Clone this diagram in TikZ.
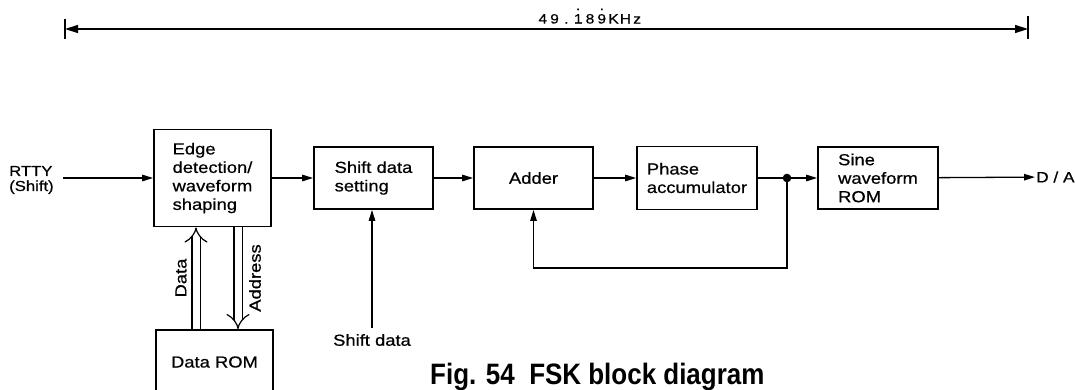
\documentclass[tikz,border=0pt]{standalone}
\usepackage{fontspec}
\setmainfont{Liberation Sans}[FakeStretch=1.15,FakeBold=0.6]
\newfontfamily\capfont{Liberation Sans}[FakeStretch=0.88]
\usetikzlibrary{arrows.meta}
\newcommand\dchar[1]{\makebox[11.8pt]{#1}}
\newcommand\dotchar[1]{\makebox[11.8pt]{\ooalign{#1\cr\hidewidth\raisebox{13.5pt}{.}\hidewidth\cr}}}
\begin{document}
\begin{tikzpicture}[x=1pt,y=-1pt,
  box/.style={draw, line width=1.8pt, align=left, inner sep=0pt, font=\fontsize{16}{18.5}\selectfont},
  arr/.style={line width=1.3pt, -{Triangle[length=11pt,width=6.5pt]}},
  dbl/.style={double, double distance=7pt, line width=1.2pt, -{Implies}},
  lbl/.style={inner sep=1pt, font=\fontsize{16}{18}\selectfont}]
\useasboundingbox (0,0) rectangle (1075,389);
\clip (0,0) rectangle (1075,389);

% dimension line
\coordinate (dl) at (65,29);
\coordinate (dr) at (1028,29);
\draw[line width=1.2pt] (65,19) -- (65,39);
\draw[line width=1.2pt] (1028,16) -- (1028,39);
\draw[line width=1.4pt, {Triangle[length=13pt,width=8pt]}-{Triangle[length=13pt,width=8pt]}] (dl) -- (dr);
\node[anchor=base, inner sep=0pt, font=\fontsize{13.5}{13.5}\selectfont] (freq) at (590,23.5)
  {\dchar{4}\dchar{9}\dchar{.}\dotchar{1}\dchar{8}\dotchar{9}\dchar{K}\dchar{H}\dchar{z}};

% blocks
\node[box, minimum width=117pt, minimum height=97pt] (edge) at (212.5,178) {Edge\\detection/\\waveform\\shaping};
\node[box, minimum width=119pt, minimum height=62pt] (sds) at (373.5,178) {Shift data\\setting};
\node[box, minimum width=119pt, minimum height=62pt] (add) at (533.5,178) {Adder};
\node[box, minimum width=120pt, minimum height=63pt] (pha) at (697,178) {Phase\\accumulator};
\node[box, minimum width=120pt, minimum height=62pt] (sin) at (878,178) {Sine\\waveform\\ROM};
\node[box, minimum width=117pt, minimum height=64pt, align=center] (rom) at (214.5,362) {Data ROM};

% input
\node[lbl, anchor=west, align=left, font=\fontsize{14.5}{15}\selectfont] (rtty) at (8,180) {RTTY\\(Shift)};
\coordinate (in) at (63,178);
\draw[arr] (in) -- (edge);

% main chain
\draw[arr] (edge) -- (sds);
\draw[arr] (sds) -- (add);
\draw[arr] (add) -- (pha);
\coordinate (j) at (787,178);
\draw[line width=1.3pt] (pha) -- (j);
\draw[arr] (j) -- (sin);
\fill (j) circle (4.3pt);
\coordinate (fb) at (787,268);
\draw[arr, line join=miter] (j) -- (fb) -| (add.south);

% output
\node[inner sep=1pt, anchor=west, font=\fontsize{15}{15}\selectfont] (da) at (1035,177) {D / A};
\draw[arr] (sin) -- (da);

% shift data input
\node[lbl] (sdl) at (372,340) {Shift data};
\draw[arr] ([yshift=5pt]sdl.north) -- (sdl.north |- sds.south);

% data / address buses
\coordinate (dx) at (196,0);
\coordinate (ax) at (238,0);
\draw[dbl] (rom.north -| dx) -- (edge.south -| dx);
\draw[dbl] (edge.south -| ax) -- (rom.north -| ax);
\node[lbl, rotate=90] (datal) at (181,278) {Data};
\node[lbl, rotate=90] (addrl) at (255,278) {Address};

% caption
\node[anchor=base west, inner sep=0pt, font=\capfont\bfseries\fontsize{29.5}{30}\selectfont] (cap) at (430,384) {Fig. 54~~FSK block diagram};
\end{tikzpicture}
\end{document}
